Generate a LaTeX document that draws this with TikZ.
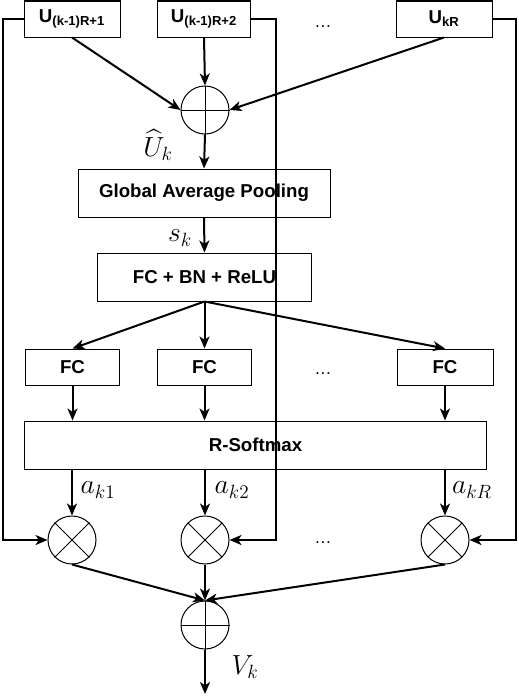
\documentclass[tikz,border=0pt]{standalone}
\usepackage{amsmath, amssymb}
\usepackage{fontspec}
\newfontfamily\boxfont{Liberation Sans}
\usepackage{tikz}
\usetikzlibrary{arrows.meta, positioning}

\begin{document}
\begin{tikzpicture}[x=0.75pt, y=-0.75pt,
    box/.style={draw, line width=0.75pt, inner sep=0pt,
        font=\boxfont\bfseries\fontsize{14}{16}\selectfont},
    ubox/.style={box, minimum height=27pt,
        font=\boxfont\bfseries\fontsize{14}{16}\selectfont},
    op/.style={draw, circle, line width=0.75pt, minimum size=36pt, inner sep=0pt},
    arr/.style={line width=1.5pt, -{Stealth[length=9pt, width=7.5pt, inset=2.5pt]}},
    lbl/.style={font=\fontsize{20.74}{24}\selectfont, inner sep=0pt},
    dots/.style={font=\boxfont\fontsize{13}{15}\selectfont, anchor=base}]
    \useasboundingbox (0,0) rectangle (518,696);

    % inputs
    \node[ubox, minimum width=72pt] (u1) at (72,19) {U\textsubscript{(k-1)R+1}};
    \node[ubox, minimum width=70pt] (u2) at (204,19) {U\textsubscript{(k-1)R+2}};
    \node[ubox, minimum width=72pt] (uR) at (444,19) {U\textsubscript{kR}};
    \node[dots] (d1) at (323,27) {\ldots};

    % fuse
    \node[op] (sum) at (205,110) {};
    \draw[line width=0.75pt] (sum.north) -- (sum.south) (sum.west) -- (sum.east);
    \draw[arr] (u1.south) -- (sum.west);
    \draw[arr] (u2.south) -- (sum.north);
    \draw[arr] (uR.south) -- (sum.east);
    \node[lbl] (uhat) at (158,145) {$\widehat{U}_k$};

    % squeeze
    \node[box, minimum width=189pt, minimum height=36pt] (gap) at (204,193) {Global Average Pooling};
    \draw[arr] (sum.south) -- (gap.north);
    \node[box, minimum width=161pt, minimum height=36pt] (fcbn) at (204.5,277) {FC + BN + ReLU};
    \draw[arr] (gap.south) -- (fcbn.north);
    \node[lbl] (sk) at (180,238) {$s_k$};

    % excitation
    \node[box, minimum width=71pt, minimum height=27pt] (fc1) at (72.5,367) {FC};
    \node[box, minimum width=71pt, minimum height=27pt] (fc2) at (204.5,367) {FC};
    \node[box, minimum width=72pt, minimum height=27pt] (fcR) at (445,367) {FC};
    \node[dots] (d2) at (323,374) {\ldots};
    \draw[arr] (fcbn.south) -- (fc1.north);
    \draw[arr] (fcbn.south) -- (fc2.north);
    \draw[arr] (fcbn.south) -- (fcR.north);

    \node[box, minimum width=347pt, minimum height=36pt] (soft) at (255.5,445) {R-Softmax};
    \draw[arr] (fc1.south) -- (fc1.south |- soft.north);
    \draw[arr] (fc2.south) -- (fc2.south |- soft.north);
    \draw[arr] (fcR.south) -- (fcR.south |- soft.north);

    % weighting
    \node[op] (m1) at (72,540) {};
    \node[op] (m2) at (205,540) {};
    \node[op] (mR) at (445,540) {};
    \node[dots] (d3) at (323,543) {\ldots};
    \foreach \m in {m1, m2, mR} {
        \draw[line width=0.75pt] (\m.north west) -- (\m.south east) (\m.north east) -- (\m.south west);
    }
    \draw[arr] (soft.south -| m1) -- (m1.north);
    \draw[arr] (soft.south -| m2) -- (m2.north);
    \draw[arr] (soft.south -| mR) -- (mR.north);
    \node[lbl] (a1) at (98,490) {$a_{k1}$};
    \node[lbl] (a2) at (232,490) {$a_{k2}$};
    \node[lbl] (aR) at (472,490) {$a_{kR}$};

    % skip paths
    \draw[arr] (u1.west) -- ++(-21,0) |- (m1.west);
    \draw[arr] (u2.east) -- ++(25,0) |- (m2.east);
    \draw[arr] (uR.east) -- ++(23,0) |- (mR.east);

    % output
    \node[op] (out) at (205,625) {};
    \draw[line width=0.75pt] (out.north) -- (out.south) (out.west) -- (out.east);
    \draw[arr] (m1.south) -- (out.north);
    \draw[arr] (m2.south) -- (out.north);
    \draw[arr] (mR.south) -- (out.north);
    \coordinate (vend) at (205,694);
    \draw[arr] (out.south) -- (vend);
    \node[lbl] (vk) at (245,667) {$V_k$};
\end{tikzpicture}
\end{document}
